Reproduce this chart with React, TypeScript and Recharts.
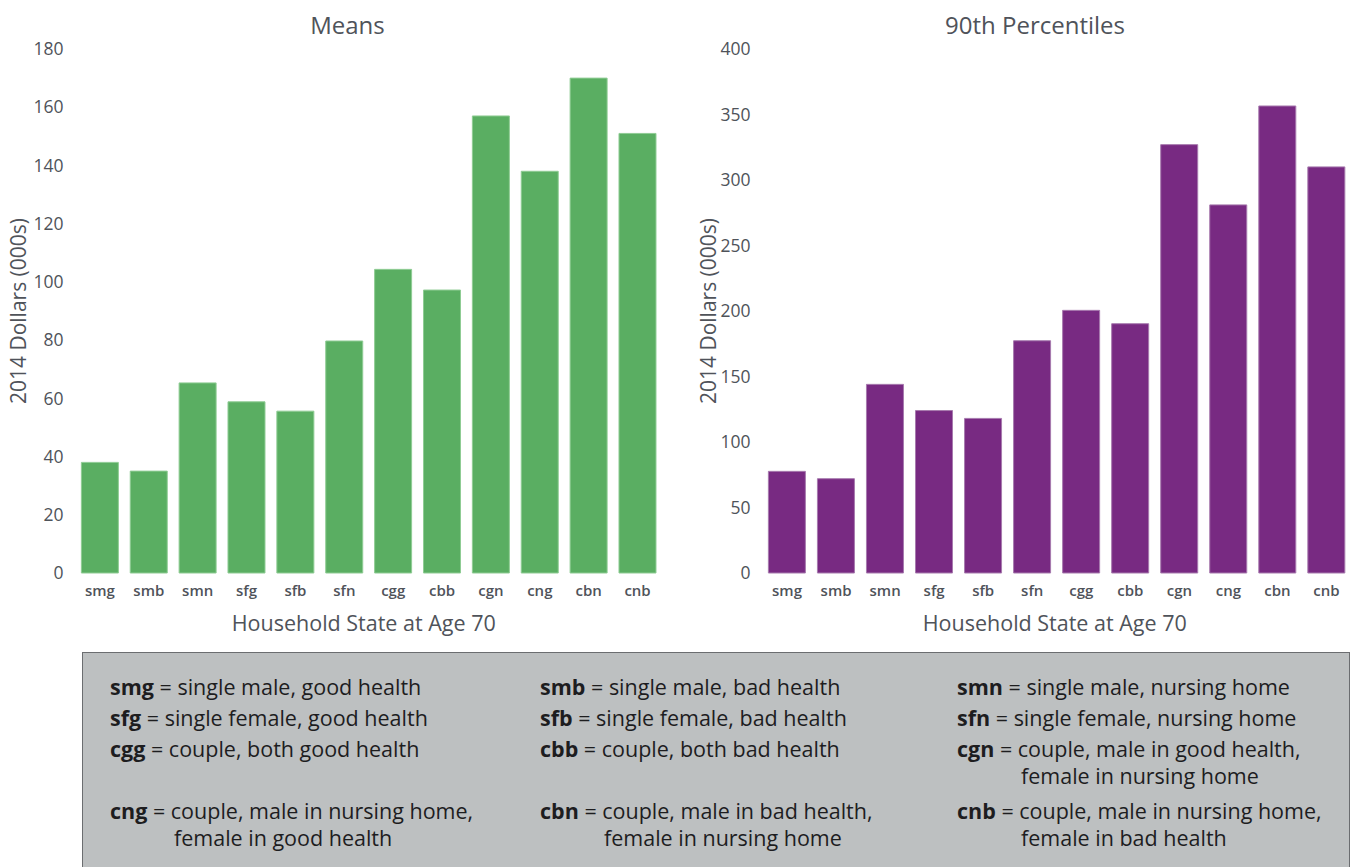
import React from "react";
import { BarChart, Bar, XAxis, YAxis } from "recharts";

const categories = ["smg", "smb", "smn", "sfg", "sfb", "sfn", "cgg", "cbb", "cgn", "cng", "cbn", "cnb"];
const meanValues = [38, 35, 65.3, 58.8, 55.6, 79.7, 104.3, 97.2, 157, 138, 170, 151];
const p90Values = [77.6, 72, 144, 124, 118, 177.3, 200.5, 190.3, 327, 281, 356.5, 310];
const meanTicks = [0, 20, 40, 60, 80, 100, 120, 140, 160, 180];
const p90Ticks = [0, 50, 100, 150, 200, 250, 300, 350, 400];

const legendRows = [
  [
    { code: "smg", lines: ["single male, good health"] },
    { code: "smb", lines: ["single male, bad health"] },
    { code: "smn", lines: ["single male, nursing home"] },
  ],
  [
    { code: "sfg", lines: ["single female, good health"] },
    { code: "sfb", lines: ["single female, bad health"] },
    { code: "sfn", lines: ["single female, nursing home"] },
  ],
  [
    { code: "cgg", lines: ["couple, both good health"] },
    { code: "cbb", lines: ["couple, both bad health"] },
    { code: "cgn", lines: ["couple, male in good health,", "female in nursing home"] },
  ],
  [
    { code: "cng", lines: ["couple, male in nursing home,", "female in good health"] },
    { code: "cbn", lines: ["couple, male in bad health,", "female in nursing home"] },
    { code: "cnb", lines: ["couple, male in nursing home,", "female in bad health"] },
  ],
];

const FONT = "'Open Sans', sans-serif";
const AXIS_GRAY = "#4f535a";
const CHART_H = 645;

const meanData = categories.map((c, i) => ({ name: c, value: meanValues[i] }));
const p90Data = categories.map((c, i) => ({ name: c, value: p90Values[i] }));

const YTitle = ({ viewBox, dx }: any) => {
  const { x, y, height } = viewBox;
  return (
    <text
      transform={`translate(${x + dx},${y + height / 2}) rotate(-90)`}
      textAnchor="middle"
      dominantBaseline="central"
      fontFamily={FONT}
      fontSize={21}
      fill={AXIS_GRAY}
    >
      2014 Dollars (000s)
    </text>
  );
};

const XTitle = ({ viewBox, dx }: any) => {
  const { x, y, width } = viewBox;
  return (
    <text
      x={x + width / 2 + dx}
      y={y + 49}
      textAnchor="middle"
      dominantBaseline="central"
      fontFamily={FONT}
      fontSize={21.5}
      fill={AXIS_GRAY}
    >
      Household State at Age 70
    </text>
  );
};

interface PanelProps {
  data: { name: string; value: number }[];
  ticks: number[];
  color: string;
  edge: string;
  width: number;
  yAxisWidth: number;
  rightMargin: number;
  yTitleDx: number;
  xTitleDx: number;
}

const Panel: React.FC<PanelProps> = ({ data, ticks, color, edge, width, yAxisWidth, rightMargin, yTitleDx, xTitleDx }) => (
  <BarChart
    width={width}
    height={CHART_H}
    data={data}
    margin={{ top: 49, right: rightMargin, bottom: 0, left: 0 }}
    barCategoryGap="12%"
  >
    <XAxis
      dataKey="name"
      axisLine={false}
      tickLine={false}
      height={CHART_H - 49 - 524}
      tickMargin={6}
      tick={{ fontFamily: FONT, fontSize: 15, fontWeight: 600, fill: AXIS_GRAY }}
      label={<XTitle dx={xTitleDx} />}
    />
    <YAxis
      type="number"
      domain={[0, ticks[ticks.length - 1]]}
      ticks={ticks}
      interval={0}
      axisLine={false}
      tickLine={false}
      width={yAxisWidth}
      tickMargin={6}
      tick={{ fontFamily: FONT, fontSize: 17.5, fill: AXIS_GRAY }}
      label={<YTitle dx={yTitleDx} />}
    />
    <Bar dataKey="value" fill={color} stroke={edge} strokeWidth={1} isAnimationActive={false} />
  </BarChart>
);

const titleStyle: React.CSSProperties = {
  position: "absolute",
  top: 8,
  fontFamily: FONT,
  fontSize: 24,
  color: AXIS_GRAY,
  textAlign: "center",
  lineHeight: "34px",
};

export default function App() {
  const colLeft = [110, 540, 957];
  const rowTop = [673, 704, 735, 797];
  return (
    <div style={{ position: "absolute", left: 0, top: 0, width: 1351, height: 867, overflow: "hidden", background: "#fff" }}>
      <div style={{ position: "absolute", left: 0, top: 0 }}>
        <Panel
          data={meanData}
          ticks={meanTicks}
          color="#5aae62"
          edge="#8fcc94"
          width={700}
          yAxisWidth={75.5}
          rightMargin={38}
          yTitleDx={18}
          xTitleDx={-5}
        />
      </div>
      <div style={{ ...titleStyle, left: 0, width: 695 }}>Means</div>
      <div style={{ position: "absolute", left: 690, top: 0 }}>
        <Panel
          data={p90Data}
          ticks={p90Ticks}
          color="#782a82"
          edge="#a77aae"
          width={661}
          yAxisWidth={72.5}
          rightMargin={0}
          yTitleDx={18}
          xTitleDx={-2}
        />
      </div>
      <div style={{ ...titleStyle, left: 690, width: 690 }}>90th Percentiles</div>

      <div
        style={{
          position: "absolute",
          left: 82,
          top: 652,
          width: 1266,
          height: 240,
          background: "#bdc0c1",
          border: "1.5px solid #6b6d70",
        }}
      />
      {legendRows.map((row, r) =>
        row.map((item, c) => (
          <div
            key={item.code}
            style={{
              position: "absolute",
              left: colLeft[c],
              top: rowTop[r],
              fontFamily: FONT,
              fontSize: 21.5,
              lineHeight: "27px",
              color: "#1d1d1f",
              whiteSpace: "nowrap",
            }}
          >
            <div>
              <span style={{ fontWeight: 700 }}>{item.code}</span> = {item.lines[0]}
            </div>
            {item.lines.slice(1).map((l) => (
              <div key={l} style={{ paddingLeft: 64 }}>
                {l}
              </div>
            ))}
          </div>
        ))
      )}
    </div>
  );
}
